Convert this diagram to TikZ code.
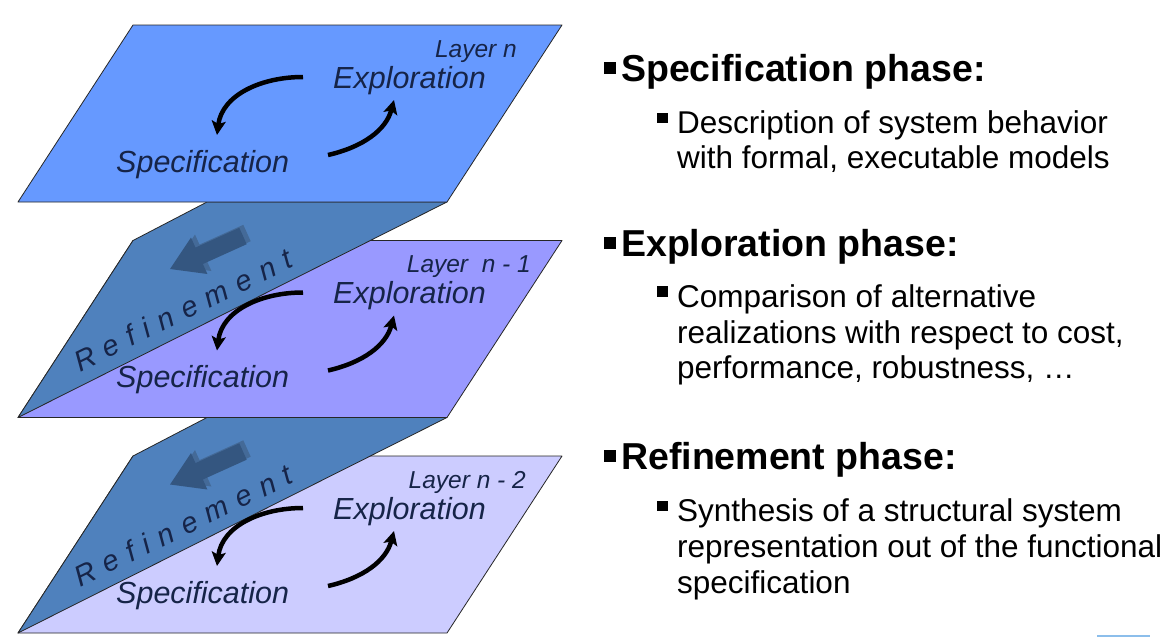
\documentclass[tikz,border=0pt]{standalone}
\usepackage{fontspec}
\setmainfont{Liberation Sans}
\newfontfamily\refinefont[LetterSpace=35]{Liberation Sans}
\usetikzlibrary{arrows.meta}
\definecolor{layA}{RGB}{102,153,255}
\definecolor{layB}{RGB}{153,153,255}
\definecolor{layC}{RGB}{204,204,255}
\definecolor{panelc}{RGB}{79,129,189}
\definecolor{parrow}{RGB}{52,86,128}
\definecolor{parrowlt}{RGB}{68,106,152}
\definecolor{navy}{RGB}{22,36,72}
\definecolor{stray}{RGB}{140,190,235}
\begin{document}
\begin{tikzpicture}[x=1pt,y=-1pt,
  layer/.style={draw=black!85,line width=0.8pt,line join=round},
  panelbox/.style={fill=panelc,draw=black!85,line width=0.8pt,line join=round},
  cyc/.style={line width=4.5pt,-{Stealth[length=14pt,width=14pt,inset=3pt]}},
  ital/.style={font=\fontsize{30.5}{36}\selectfont\itshape,text=navy,inner sep=0pt,anchor=base west},
  laylab/.style={font=\fontsize{24.5}{28}\selectfont\itshape,text=navy,inner sep=0pt,anchor=base east},
  refin/.style={font=\fontsize{29}{32}\selectfont\refinefont\itshape,text=navy,inner sep=0pt,rotate=26.2},
  head/.style={font=\fontsize{37.5}{44}\selectfont\bfseries,inner sep=0pt,anchor=base west},
  sub/.style={font=\fontsize{31.5}{36}\selectfont,inner sep=0pt,anchor=base west},
  hbul/.style={fill=black,inner sep=0pt,minimum size=12pt,anchor=north west},
  sbul/.style={fill=black,inner sep=0pt,minimum size=10.5pt,anchor=north west},
]
\useasboundingbox (0,0) rectangle (1174,637);
\fill[white] (0,0) rectangle (1174,637);

% ---------- shapes ----------
% bottom layer
\path[layer,fill=layC] (133,456) -- (562,456) -- (447,633) -- (18,633) -- cycle;
% panel 2 (between middle and bottom)
\begin{scope}[shift={(0,215.5)}]
  \path[panelbox] (207,202) -- (447,202) -- (18,417.5) -- (133,240.5) -- cycle;
  \fill[parrowlt] (243.3,224.8) -- (199.5,244.6) -- (195,234.6) -- (174,266) -- (211.4,271) -- (206.9,261) -- (250.7,241.2) -- cycle;
  \fill[parrow] (239.3,227.8) -- (195.5,247.6) -- (191,237.6) -- (170,269) -- (207.4,274) -- (202.9,264) -- (246.7,244.2) -- cycle;
  \node[refin] (ref2) at (183,310) {Refinement};
\end{scope}
% middle layer
\path[layer,fill=layB] (133,240.5) -- (562,240.5) -- (447,417.5) -- (18,417.5) -- cycle;
% panel 1 (between top and middle)
\path[panelbox] (207,202) -- (447,202) -- (18,417.5) -- (133,240.5) -- cycle;
\fill[parrowlt] (243.3,224.8) -- (199.5,244.6) -- (195,234.6) -- (174,266) -- (211.4,271) -- (206.9,261) -- (250.7,241.2) -- cycle;
\fill[parrow] (239.3,227.8) -- (195.5,247.6) -- (191,237.6) -- (170,269) -- (207.4,274) -- (202.9,264) -- (246.7,244.2) -- cycle;
\node[refin] (ref1) at (183,310) {Refinement};
% top layer
\path[layer,fill=layA] (133,25) -- (562,25) -- (447,202) -- (18,202) -- cycle;

% ---------- layer contents ----------
\foreach \k/\dy/\lab/\lx in {0/0/{Layer n}/517, 1/215.5/{Layer\ \ n - 1}/531, 2/431/{Layer n - 2}/526}{
  \begin{scope}[shift={(0,\dy)}]
    \node[laylab] (lay\k) at (\lx,57) {\lab};
    \node[ital] (ex\k) at (333,88) {Exploration};
    \node[ital] (sp\k) at (116,172) {Specification};
    \coordinate (as\k) at (303,77);
    \coordinate (ae\k) at (217,135);
    \coordinate (bs\k) at (328,155);
    \coordinate (be\k) at (394,100);
    \draw[cyc] (as\k) .. controls +(-42,0) and +(5,-40) .. (ae\k);
    \draw[cyc] (bs\k) .. controls +(35,-8) and +(-8,30) .. (be\k);
  \end{scope}
}

% ---------- right text ----------
\node[hbul] (hb1) at (604,62) {};
\node[head] (h1) at (621,81) {Specification phase:};
\node[sbul] (sb1) at (657,112.5) {};
\node[sub] (d1) at (677,133) {Description of system behavior};
\node[sub] (d2) at (677,168) {with formal, executable models};

\node[hbul] (hb2) at (604,236.5) {};
\node[head] (h2) at (621,256) {Exploration phase:};
\node[sbul] (sb2) at (657,286) {};
\node[sub] (c1) at (677,307) {Comparison of alternative};
\node[sub] (c2) at (677,343) {realizations with respect to cost,};
\node[sub] (c3) at (677,378) {performance, robustness, …};

\node[hbul] (hb3) at (604,449.5) {};
\node[head] (h3) at (621,469) {Refinement phase:};
\node[sbul] (sb3) at (657,500.5) {};
\node[sub] (r1) at (677,521.5) {Synthesis of a structural system};
\node[sub] (r2) at (677,557) {representation out of the functional};
\node[sub] (r3) at (677,593) {specification};

\draw[stray,line width=2pt] (1097,636) -- (1150,636);
\end{tikzpicture}
\end{document}
